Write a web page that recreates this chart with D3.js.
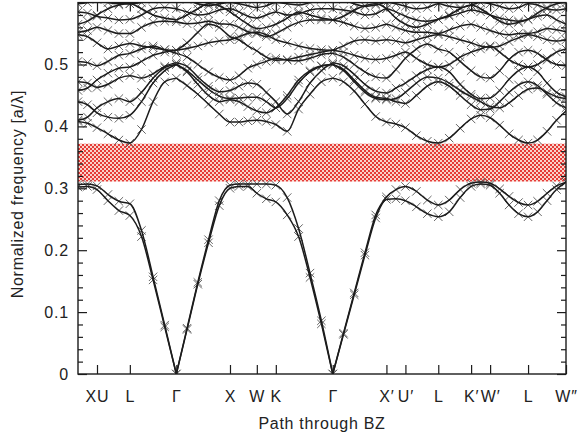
<!DOCTYPE html>
<html><head><meta charset="utf-8">
<script src="https://cdn.jsdelivr.net/npm/d3@7"></script>
<style>
body{margin:0;background:#fff}
text{font-family:"Liberation Sans",Arial,Helvetica,sans-serif}
</style>
</head><body>
<svg id="c" width="581" height="440"></svg>
<script>
// ---- data ----
const symPoints = [0, 0.354, 0.966, 1.832, 2.832, 3.332, 3.686, 4.747, 5.747, 6.101, 6.713, 7.325, 7.679, 8.386, 9.093];
const symLabels = ["", "XU", "L", "Γ", "X", "W", "K", "Γ", "X′", "U′", "L", "K′", "W′", "L", "W″"];
const yTicks = [0, 0.1, 0.2, 0.3, 0.4, 0.5];
const yTickLabels = ["0", "0.1", "0.2", "0.3", "0.4", "0.5"];
const gapRange = [0.311, 0.372];
const kGrid = [0,0.177,0.354,0.558,0.762,0.966,1.183,1.399,1.616,1.832,2.032,2.232,2.432,2.632,2.832,2.999,3.165,3.332,3.509,3.686,3.898,4.110,4.323,4.535,4.747,4.947,5.147,5.347,5.547,5.747,5.924,6.101,6.305,6.509,6.713,6.917,7.121,7.325,7.502,7.679,7.856,8.032,8.209,8.386,8.563,8.740,8.916,9.093];
const gammaIdx = [9, 24];

const band1 = [0.302,0.303,0.298,0.280,0.264,0.256,0.222,0.152,0.076,0,
0.072,0.145,0.212,0.272,0.300,0.303,0.303,0.292,0.283,0.278,
0.257,0.222,0.156,0.081,0, 0.064,0.128,0.192,0.252,0.282,
0.283,0.280,0.270,0.259,0.254,0.262,0.285,0.303,0.307,0.305,
0.292,0.273,0.259,0.254,0.262,0.280,0.298,0.310];
const band2 = [0.306,0.307,0.304,0.290,0.279,0.275,0.232,0.157,0.079,0,
0.074,0.148,0.217,0.280,0.305,0.307,0.307,0.307,0.307,0.305,
0.285,0.235,0.163,0.086,0, 0.066,0.131,0.196,0.257,0.286,
0.298,0.303,0.295,0.281,0.273,0.281,0.298,0.308,0.310,0.308,
0.299,0.287,0.277,0.273,0.279,0.292,0.304,0.310];
const band3 = [0.408,0.405,0.398,0.388,0.378,0.373,0.395,0.440,0.472,0.478,
0.466,0.452,0.436,0.420,0.407,0.407,0.409,0.410,0.408,0.403,
0.392,0.428,0.452,0.472,0.478, 0.472,0.457,0.436,0.416,0.407,
0.404,0.398,0.385,0.376,0.373,0.381,0.397,0.412,0.418,0.414,
0.402,0.388,0.378,0.373,0.378,0.392,0.410,0.425];
const band4 = [0.440,0.435,0.422,0.415,0.413,0.418,0.440,0.470,0.490,0.500,
0.490,0.475,0.460,0.449,0.445,0.446,0.447,0.447,0.440,0.430,
0.445,0.470,0.488,0.497,0.500, 0.492,0.475,0.458,0.447,0.445,
0.440,0.437,0.450,0.465,0.472,0.465,0.450,0.435,0.427,0.428,
0.440,0.455,0.467,0.472,0.466,0.452,0.438,0.430];
const band5 = [0.472,0.470,0.463,0.468,0.478,0.482,0.478,0.485,0.497,0.503,
0.497,0.480,0.465,0.456,0.458,0.465,0.470,0.468,0.455,0.440,
0.420,0.440,0.470,0.490,0.503, 0.498,0.484,0.468,0.457,0.454,
0.462,0.470,0.482,0.492,0.496,0.488,0.468,0.452,0.445,0.446,
0.458,0.476,0.490,0.496,0.488,0.470,0.455,0.448];
const band6 = [0.505,0.503,0.498,0.505,0.515,0.518,0.525,0.530,0.524,0.518,
0.512,0.500,0.488,0.479,0.475,0.482,0.494,0.500,0.505,0.510,
0.507,0.506,0.510,0.516,0.518, 0.512,0.500,0.488,0.480,0.478,
0.492,0.510,0.525,0.533,0.525,0.520,0.505,0.490,0.480,0.478,
0.490,0.508,0.520,0.523,0.518,0.507,0.500,0.498];
const band7 = [0.548,0.545,0.535,0.525,0.530,0.534,0.530,0.527,0.524,0.523,
0.535,0.552,0.565,0.560,0.545,0.540,0.530,0.522,0.512,0.507,
0.508,0.512,0.516,0.520,0.523, 0.530,0.538,0.540,0.538,0.540,
0.538,0.535,0.540,0.545,0.548,0.545,0.540,0.535,0.530,0.528,
0.530,0.537,0.543,0.548,0.545,0.540,0.538,0.540];
const band8 = [0.552,0.555,0.560,0.555,0.550,0.550,0.560,0.568,0.570,0.569,
0.566,0.567,0.570,0.566,0.565,0.560,0.553,0.550,0.545,0.550,
0.560,0.568,0.572,0.572,0.572, 0.568,0.562,0.558,0.560,0.565,
0.560,0.555,0.552,0.552,0.550,0.556,0.562,0.565,0.560,0.555,
0.550,0.548,0.550,0.550,0.553,0.558,0.556,0.553];
const band9 = [0.585,0.583,0.578,0.575,0.572,0.573,0.580,0.590,0.592,0.590,
0.585,0.580,0.582,0.588,0.590,0.585,0.578,0.575,0.580,0.585,
0.580,0.582,0.588,0.590,0.590, 0.588,0.585,0.580,0.582,0.590,
0.585,0.578,0.572,0.570,0.573,0.578,0.583,0.588,0.585,0.580,
0.575,0.572,0.570,0.573,0.578,0.580,0.572,0.565];
const band10 = [0.598,0.600,0.605,0.600,0.598,0.598,0.600,0.605,0.610,0.610,
0.605,0.598,0.595,0.598,0.600,0.598,0.595,0.592,0.595,0.600,
0.598,0.596,0.600,0.605,0.610, 0.605,0.598,0.594,0.596,0.600,
0.598,0.594,0.590,0.592,0.598,0.594,0.592,0.596,0.600,0.598,
0.594,0.590,0.592,0.598,0.596,0.590,0.588,0.590];
const band11 = [0.458,0.462,0.475,0.486,0.494,0.496,0.505,0.515,0.520,0.523,
0.526,0.530,0.535,0.538,0.540,0.545,0.550,0.552,0.548,0.540,
0.535,0.530,0.526,0.524,0.523, 0.520,0.515,0.510,0.508,0.510,
0.515,0.520,0.510,0.500,0.496,0.500,0.512,0.520,0.525,0.530,
0.520,0.508,0.500,0.496,0.500,0.510,0.520,0.525];
const band12 = [0.565,0.570,0.580,0.590,0.596,0.598,0.590,0.580,0.575,0.572,
0.580,0.590,0.598,0.595,0.585,0.575,0.565,0.558,0.560,0.565,
0.575,0.585,0.580,0.575,0.572, 0.578,0.588,0.595,0.598,0.590,
0.575,0.565,0.560,0.565,0.573,0.580,0.590,0.596,0.590,0.580,
0.570,0.565,0.568,0.573,0.583,0.592,0.598,0.600];
const band13 = [0.410,0.415,0.430,0.440,0.445,0.440,0.455,0.478,0.495,0.500,
0.488,0.468,0.450,0.440,0.443,0.440,0.432,0.425,0.422,0.430,
0.450,0.475,0.490,0.498,0.500, 0.490,0.472,0.455,0.445,0.443,
0.445,0.455,0.470,0.480,0.478,0.470,0.458,0.448,0.440,0.432,
0.430,0.438,0.450,0.460,0.462,0.455,0.448,0.445];
const bands = [band1, band2, band3, band4, band5, band6, band7, band8, band9, band10, band11, band12, band13];

// ---- chart ----
const svg = d3.select("#c");
const L = 78, R = 566, T = 2.6, B = 374;
const x = d3.scaleLinear().domain([0, 9.093]).range([L, R]);
const y = d3.scaleLinear().domain([0, 0.6]).range([B, T]);

const defs = svg.append("defs");
const pat = defs.append("pattern").attr("id","chk").attr("patternUnits","userSpaceOnUse")
  .attr("width",4).attr("height",4);
pat.append("rect").attr("width",4).attr("height",4).attr("fill","#e63c38");
pat.append("rect").attr("x",0).attr("y",0).attr("width",2).attr("height",2).attr("fill","#f8d4cc");
pat.append("rect").attr("x",2).attr("y",2).attr("width",2).attr("height",2).attr("fill","#f8d4cc");
defs.append("clipPath").attr("id","plotclip").append("rect")
  .attr("x",L).attr("y",T).attr("width",R-L).attr("height",B-T);

// gap band
svg.append("rect")
  .attr("x", x(0)).attr("width", x(9.093)-x(0))
  .attr("y", y(gapRange[1])).attr("height", y(gapRange[0]) - y(gapRange[1]))
  .attr("fill","url(#chk)");

const g = svg.append("g").attr("clip-path","url(#plotclip)");

// crosses
const cs = 4.2;
bands.forEach(b => {
  g.append("g").selectAll("path").data(b.map((v,i)=>[kGrid[i], v]))
    .join("path")
    .attr("transform", d => `translate(${x(d[0])},${y(d[1])})`)
    .attr("d", `M${-cs},${-cs}L${cs},${cs}M${-cs},${cs}L${cs},${-cs}`)
    .attr("stroke","#555").attr("stroke-width",0.9).attr("fill","none");
});

// lines (split at Gamma points)
const line = d3.line().x(d=>x(d[0])).y(d=>y(d[1])).curve(d3.curveMonotoneX);
const pieces = [[0, gammaIdx[0]], [gammaIdx[0], gammaIdx[1]], [gammaIdx[1], kGrid.length-1]];
bands.forEach(b => {
  pieces.forEach(([a,e]) => {
    const pts = [];
    for (let i=a;i<=e;i++) pts.push([kGrid[i], b[i]]);
    g.append("path").attr("d", line(pts)).attr("fill","none")
      .attr("stroke","#1c1c1c").attr("stroke-width",1.5);
  });
});

// axes
const minor = d3.range(0, 0.6, 0.02).filter(v => Math.abs(v*10 - Math.round(v*10)) > 1e-6 && v > 0.001);
const fs = "16px";
const ax = svg.append("g");
ax.append("g").attr("transform",`translate(${L},0)`)
  .call(d3.axisLeft(y).tickValues(yTicks).tickSize(-9).tickPadding(9)
    .tickFormat((d,i)=>yTickLabels[i]));
ax.append("g").attr("transform",`translate(${L},0)`)
  .call(d3.axisLeft(y).tickValues(minor).tickSize(-5).tickFormat(""));
ax.append("g").attr("transform",`translate(${R},0)`)
  .call(d3.axisRight(y).tickValues(yTicks).tickSize(-9).tickFormat(""));
ax.append("g").attr("transform",`translate(${R},0)`)
  .call(d3.axisRight(y).tickValues(minor).tickSize(-5).tickFormat(""));
const tickKs = symPoints.slice(1);
const xl = ax.append("g").attr("transform",`translate(0,${B})`)
  .call(d3.axisBottom(x).tickValues(tickKs).tickSize(-9).tickPadding(17)
    .tickFormat((d,i)=>symLabels[i+1]));
ax.append("g").attr("transform",`translate(0,${T})`)
  .call(d3.axisTop(x).tickValues(tickKs).tickSize(-9).tickFormat(""));
ax.selectAll(".domain").remove();
ax.selectAll(".tick line").attr("stroke","#1c1c1c").attr("stroke-width",1.2);
ax.selectAll("text").attr("font-size",fs).attr("fill","#222")
  .attr("font-family","'Liberation Sans',Arial,sans-serif").attr("letter-spacing","0.8px");
xl.selectAll("text").filter(function(){return this.textContent==="Γ";})
  .attr("font-family","'Liberation Serif','Times New Roman',serif");

// frame
svg.append("rect").attr("x",L).attr("y",T).attr("width",R-L).attr("height",B-T)
  .attr("fill","none").attr("stroke","#1c1c1c").attr("stroke-width",1.4);

// titles
svg.append("text").attr("x",322).attr("y",429).attr("text-anchor","middle")
  .attr("font-size",fs).attr("fill","#222").attr("letter-spacing","0.7px").text("Path through BZ");
svg.append("text").attr("transform","translate(23,194) rotate(-90)").attr("text-anchor","middle")
  .attr("font-size",fs).attr("fill","#222").attr("letter-spacing","0.7px").text("Normalized frequency [a/λ]");
</script>
</body></html>
